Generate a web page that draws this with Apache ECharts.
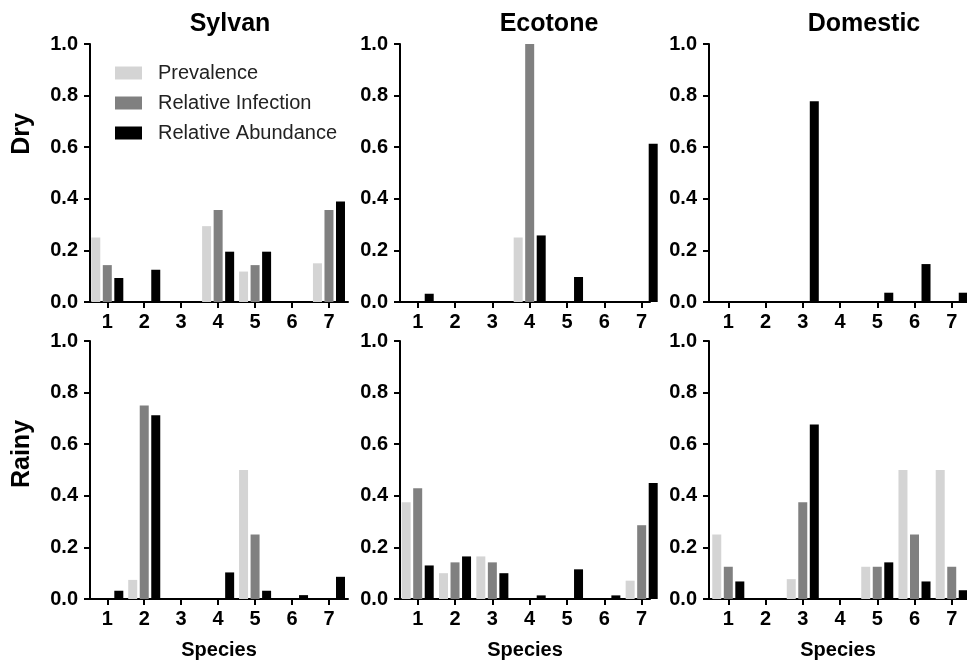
<!DOCTYPE html>
<html>
<head>
<meta charset="utf-8">
<script src="https://cdn.jsdelivr.net/npm/echarts@6/dist/echarts.min.js"></script>
<style>
  html, body { margin: 0; padding: 0; background: #fff; }
  #chart { width: 967px; height: 666px; }
</style>
</head>
<body>
<div id="chart"></div>
<script>
// species on the x axis
const species = [1, 2, 3, 4, 5, 6, 7];
const yTicks = [0, 0.2, 0.4, 0.6, 0.8, 1.0];

const habitats = ['Sylvan', 'Ecotone', 'Domestic'];
const seasons = ['Dry', 'Rainy'];
const seriesNames = ['Prevalence', 'Relative Infection', 'Relative Abundance'];
const seriesColors = ['#d4d4d4', '#808080', '#000000'];

// Dry season
const sylvanDryPrev = [0.25, 0, 0, 0.294, 0.118, 0, 0.15];
const sylvanDryInf = [0.143, 0, 0, 0.357, 0.143, 0, 0.357];
const sylvanDryAbund = [0.093, 0.125, 0, 0.195, 0.195, 0, 0.39];

const ecotoneDryPrev = [0, 0, 0, 0.25, 0, 0, 0];
const ecotoneDryInf = [0, 0, 0, 1.0, 0, 0, 0];
const ecotoneDryAbund = [0.032, 0, 0, 0.258, 0.097, 0, 0.613];

const domesticDryPrev = [0, 0, 0, 0, 0, 0, 0];
const domesticDryInf = [0, 0, 0, 0, 0, 0, 0];
const domesticDryAbund = [0, 0, 0.778, 0, 0.036, 0.147, 0.036];

// Rainy season
const sylvanRainyPrev = [0, 0.074, 0, 0, 0.5, 0, 0];
const sylvanRainyInf = [0, 0.75, 0, 0, 0.25, 0, 0];
const sylvanRainyAbund = [0.032, 0.712, 0, 0.103, 0.032, 0.015, 0.086];

const ecotoneRainyPrev = [0.375, 0.1, 0.165, 0, 0, 0, 0.071];
const ecotoneRainyInf = [0.429, 0.142, 0.142, 0, 0, 0, 0.286];
const ecotoneRainyAbund = [0.13, 0.165, 0.1, 0.014, 0.115, 0.014, 0.45];

const domesticRainyPrev = [0.25, 0, 0.077, 0, 0.125, 0.5, 0.5];
const domesticRainyInf = [0.125, 0, 0.375, 0, 0.125, 0.25, 0.125];
const domesticRainyAbund = [0.068, 0, 0.676, 0, 0.142, 0.068, 0.034];

const panelData = [
  [sylvanDryPrev, sylvanDryInf, sylvanDryAbund],
  [ecotoneDryPrev, ecotoneDryInf, ecotoneDryAbund],
  [domesticDryPrev, domesticDryInf, domesticDryAbund],
  [sylvanRainyPrev, sylvanRainyInf, sylvanRainyAbund],
  [ecotoneRainyPrev, ecotoneRainyInf, ecotoneRainyAbund],
  [domesticRainyPrev, domesticRainyInf, domesticRainyAbund]
];

// layout of the 3x2 panels
const colLeft = [90, 400, 709];
const colWidth = [258, 250, 258];
const colXRange = [[0.532, 7.515], [0.526, 7.223], [0.482, 7.41]];
const rowTop = [44, 341];
const rowHeight = 258;

const FONT = '"Liberation Sans", Arial, Helvetica, sans-serif';

const chart = echarts.init(document.getElementById('chart'));

const grid = [];
const xAxis = [];
const yAxis = [];
const series = [];

panelData.forEach((sets, i) => {
  const row = Math.floor(i / 3);
  const col = i % 3;
  grid.push({
    left: colLeft[col],
    top: rowTop[row],
    width: colWidth[col],
    height: rowHeight,
    containLabel: false
  });
  xAxis.push({
    gridIndex: i,
    type: 'value',
    min: colXRange[col][0],
    max: colXRange[col][1],
    name: row === 1 ? 'Species' : '',
    nameLocation: 'middle',
    nameGap: 41,
    nameTextStyle: { fontFamily: FONT, fontWeight: 'bold', fontSize: 20, color: '#000' },
    splitLine: { show: false },
    axisLine: { show: true, onZero: false, lineStyle: { color: '#000', width: 2 } },
    axisTick: { show: true, customValues: species, length: 6, lineStyle: { color: '#000', width: 2 } },
    axisLabel: {
      customValues: species,
      margin: 10,
      fontFamily: FONT,
      fontWeight: 'bold',
      fontSize: 20,
      color: '#000'
    }
  });
  yAxis.push({
    gridIndex: i,
    type: 'value',
    min: 0,
    max: 1,
    interval: 0.2,
    splitLine: { show: false },
    axisLine: { show: true, lineStyle: { color: '#000', width: 2 } },
    axisTick: { show: true, length: 6, lineStyle: { color: '#000', width: 2 } },
    axisLabel: {
      margin: 12,
      fontFamily: FONT,
      fontWeight: 'bold',
      fontSize: 20,
      color: '#000',
      formatter: (v) => v.toFixed(1)
    }
  });
  sets.forEach((vals, k) => {
    series.push({
      type: 'bar',
      name: seriesNames[k],
      xAxisIndex: i,
      yAxisIndex: i,
      barWidth: 9,
      barGap: '28%',
      clip: false,
      itemStyle: { color: seriesColors[k] },
      data: species.map((s, j) => [s, vals[j]])
    });
  });
});

const graphic = [];
const titleX = [230, 549, 864];
habitats.forEach((h, c) => {
  graphic.push({
    type: 'text',
    x: titleX[c],
    y: 24,
    style: {
      text: h,
      font: 'bold 25px ' + FONT,
      fill: '#000',
      align: 'center',
      verticalAlign: 'middle'
    }
  });
});
const rowLabelY = [134, 454];
seasons.forEach((s, r) => {
  graphic.push({
    type: 'text',
    x: 22,
    y: rowLabelY[r],
    rotation: Math.PI / 2,
    style: {
      text: s,
      font: 'bold 25px ' + FONT,
      fill: '#000',
      align: 'center',
      verticalAlign: 'middle'
    }
  });
});

const option = {
  backgroundColor: '#fff',
  animation: false,
  legend: {
    data: seriesNames,
    orient: 'vertical',
    left: 110,
    top: 58,
    itemWidth: 27,
    itemHeight: 13,
    itemGap: 10,
    icon: 'rect',
    textStyle: {
      fontFamily: FONT,
      fontSize: 20,
      color: '#222',
      lineHeight: 20,
      padding: [0, 0, 0, 11]
    }
  },
  grid: grid,
  xAxis: xAxis,
  yAxis: yAxis,
  series: series,
  graphic: graphic
};

chart.setOption(option);
</script>
</body>
</html>
